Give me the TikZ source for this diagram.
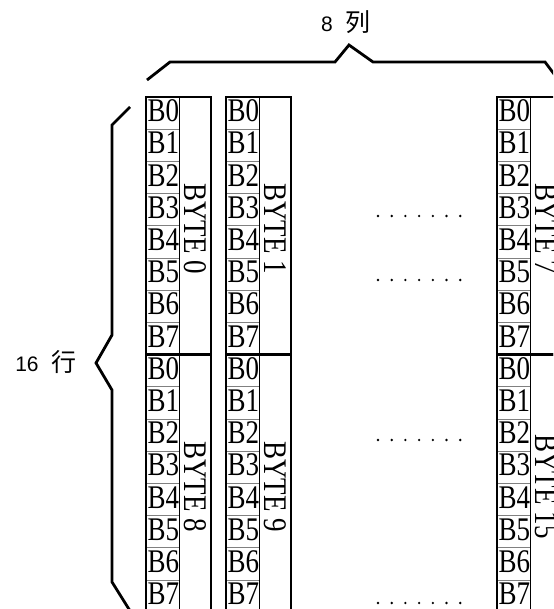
\documentclass[tikz,border=0pt]{standalone}
\usepackage{graphicx}
\usepackage{fontspec}
\setmainfont{Liberation Serif}
\newfontfamily\arialf{Liberation Sans}
\newfontfamily\cjk{Noto Sans CJK SC}
\newcommand\bigtimes[1]{\scalebox{2.7}[3.3]{\fontsize{10}{12}\selectfont #1}}
\newcommand\bigsans[1]{\scalebox{2.1}{\arialf\fontsize{10}{12}\selectfont #1}}
\newcommand\bigcjk[1]{\scalebox{2.5}{\cjk\fontsize{10}{12}\selectfont #1}}
\begin{document}
\begin{tikzpicture}[x=1pt,y=-1pt,
  thickbox/.style={draw=black, line width=2.6pt},
  cellline/.style={draw=gray, line width=0.8pt},
  divline/.style={draw=black, line width=0.8pt},
  bitlabel/.style={inner sep=0pt, anchor=base west},
  bytelabel/.style={inner sep=0pt, rotate=-90},
  bracepath/.style={draw=black, line width=2.8pt, line join=miter},
  caption/.style={inner sep=0pt},
  dotmark/.style={fill=black}]
\useasboundingbox (0,0) rectangle (553,609);
\clip (0,0) rectangle (553,609);
% columns of bytes
\foreach \c/\x/\nt/\nb in {0/146/0/8, 1/226/1/9, 7/497/7/15}{
  \foreach \g/\yz/\n in {t/97/\nt, b/354.6/\nb}{
    \foreach \r in {1,...,7}{
      \draw[cellline] (\x, \yz+\r*32.2) -- (\x+33, \yz+\r*32.2);
    }
    \draw[divline] (\x+33, \yz) -- (\x+33, \yz+257.6);
    \foreach \r in {0,...,7}{
      \node[bitlabel] (b\c\g\r) at (\x+1.5, \yz+\r*32.2+24.7) {\bigtimes{B\r}};
    }
    \node[bytelabel] (byte\c\g) at (\x+49, \yz+131.8) {\bigtimes{BYTE \n}};
    \draw[thickbox] (\x, \yz) rectangle (\x+65, \yz+257.6);
  }
}
% dots
\foreach \yy in {216,280,440,603}{
  \foreach \k in {0,...,6}{
    \fill[dotmark] (378+\k*13.7, \yy) circle (1.3pt);
  }
}
% braces
\draw[bracepath] (147,80) -- (170,62) -- (335,62) -- (349,45) -- (373,62) -- (545,62) -- (560,82);
\draw[bracepath] (130,107) -- (112,125) -- (112,335) -- (96,363) -- (112,390) -- (112,582) -- (132,614);
% captions
\node[caption] (cols) at (346,22) {\bigsans{8}\hspace{13pt}\bigcjk{列}};
\node[caption] (rows) at (46,362) {\bigsans{16}\hspace{13pt}\bigcjk{行}};
\end{tikzpicture}
\end{document}
